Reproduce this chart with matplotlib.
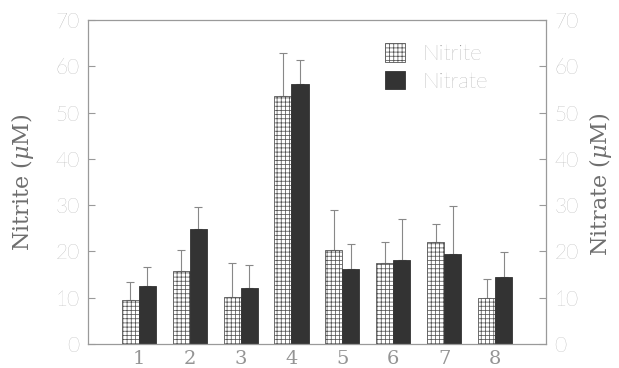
import matplotlib
matplotlib.use("Agg")
import matplotlib.pyplot as plt
import numpy as np

# --- data ---
groups = ["1", "2", "3", "4", "5", "6", "7", "8"]
nitrite = [9.5, 15.8, 10.2, 53.6, 20.4, 17.6, 22.1, 9.9]
nitrite_sd = [3.8, 4.5, 7.2, 9.2, 8.6, 4.4, 3.8, 4.1]
nitrate = [12.6, 24.8, 12.2, 56.1, 16.3, 18.1, 19.4, 14.5]
nitrate_sd = [4.1, 4.9, 4.9, 5.2, 5.4, 8.8, 10.5, 5.4]

plt.rcParams["hatch.linewidth"] = 0.55
plt.rcParams["hatch.color"] = "#555555"
plt.rcParams["mathtext.fontset"] = "dejavuserif"

grey_txt = "#949494"
label_txt = "#6e6e6e"
spine_col = "#9a9a9a"

fig = plt.figure(figsize=(6.19, 3.68), dpi=100)
ax = fig.add_axes([0.142, 0.0652, 0.740, 0.8805])

x = np.arange(1, len(groups) + 1)
w = 0.335

ax.bar(x - w / 2, nitrite, w, color="white", edgecolor="#555555",
       linewidth=0.6, hatch="++++", label="Nitrite", zorder=2)
ax.bar(x + w / 2, nitrate, w, color="#333333", edgecolor="#333333",
       linewidth=0.6, label="Nitrate", zorder=2)

# only the upper half of each error bar is drawn
ax.errorbar(x - w / 2, nitrite, yerr=[np.zeros(len(x)), nitrite_sd],
            fmt="none", ecolor="#888888", elinewidth=0.8, capsize=3,
            capthick=0.8, zorder=1)
ax.errorbar(x + w / 2, nitrate, yerr=[np.zeros(len(x)), nitrate_sd],
            fmt="none", ecolor="#888888", elinewidth=0.8, capsize=3,
            capthick=0.8, zorder=1)

ax.set_xlim(0, 9)
ax.set_ylim(0, 70)
ax.set_yticks(np.arange(0, 71, 10))
ax.set_xticks(x)
ax.set_xticklabels(groups, family="DejaVu Serif", fontsize=14,
                   color=grey_txt)

for s in ax.spines.values():
    s.set_color(spine_col)
    s.set_linewidth(0.9)

ax.tick_params(axis="y", direction="in", length=5, color=spine_col,
               left=True, right=True, labelleft=True, labelright=True,
               labelsize=15, labelcolor=grey_txt, pad=6)
ax.tick_params(axis="x", length=0, pad=4)
for lab in ax.get_yticklabels():
    lab.set_family("Lato")
    lab.set_fontweight("light")

fig.text(0.037, 0.505, r"Nitrite ($\mu$M)", rotation=90, ha="center",
         va="center", family="DejaVu Serif", fontsize=16, color=label_txt)
fig.text(0.970, 0.500, r"Nitrate ($\mu$M)", rotation=90, ha="center",
         va="center", family="DejaVu Serif", fontsize=16, color=label_txt)

leg = ax.legend(loc="upper left", bbox_to_anchor=(0.605, 0.99), frameon=False,
                prop={"family": "Lato", "weight": "light", "size": 16},
                handlelength=0.9, handleheight=0.9, labelspacing=0.3,
                handletextpad=0.8)
for t in leg.get_texts():
    t.set_color("#8c8c8c")

fig.savefig("out.png", dpi=100)
